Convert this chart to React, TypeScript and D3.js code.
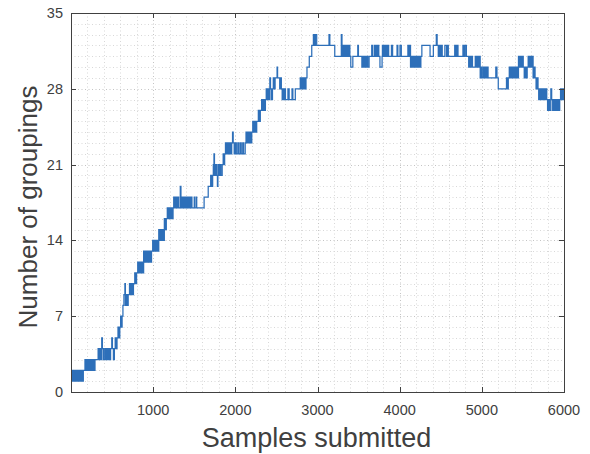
import React, { useEffect, useRef } from 'react'
import * as d3 from 'd3'

const W = 590
const H = 454
const margin = { top: 13, right: 26, bottom: 62, left: 71 }

const xTicks = [1000, 2000, 3000, 4000, 5000, 6000]
const yTicks = [0, 7, 14, 21, 28, 35]

// [sample, groupings] change points (step-after)
const risePhase: [number, number][] = [
  [0, 2], [12, 1], [25, 2], [38, 1], [50, 2], [62, 1], [75, 2], [88, 1], [100, 2], [112, 1], [125, 2], [140, 1], [150, 2],
  [170, 3], [182, 2], [195, 3], [208, 2], [220, 3], [232, 2], [245, 3], [258, 2], [270, 3], [282, 2], [292, 3],
  [330, 4], [342, 3], [352, 4], [364, 3], [374, 5], [382, 4], [394, 3], [410, 4], [422, 3], [434, 4], [446, 3], [458, 4],
  [470, 3], [482, 4], [496, 5], [504, 4], [516, 3], [528, 4], [538, 5], [550, 4], [560, 5], [572, 6], [584, 5], [594, 6],
  [604, 7], [614, 6], [622, 7], [632, 8], [644, 9], [656, 10], [662, 8], [672, 9], [684, 8], [696, 9], [712, 10], [724, 9],
  [736, 10], [748, 9], [760, 10], [776, 11], [788, 10], [798, 11], [812, 12], [824, 11], [836, 12], [848, 11], [860, 12],
  [872, 11], [884, 13], [896, 12], [908, 13], [920, 12], [932, 13], [944, 12], [956, 13], [968, 12], [980, 13], [994, 14],
  [1006, 13], [1018, 14], [1030, 13], [1042, 14], [1054, 13], [1068, 15], [1076, 14], [1090, 15], [1102, 14], [1114, 15],
  [1126, 14], [1136, 16], [1148, 15], [1160, 16], [1172, 17], [1184, 16], [1196, 17], [1208, 16], [1220, 17], [1232, 16],
  [1242, 17], [1250, 18], [1262, 17], [1274, 18], [1286, 17], [1300, 18], [1310, 17], [1330, 19], [1338, 17], [1345, 18],
  [1357, 17], [1369, 18], [1381, 17], [1393, 18], [1405, 17], [1420, 18], [1428, 17], [1440, 18], [1452, 17], [1465, 18],
  [1472, 17], [1500, 18], [1506, 17], [1525, 18], [1530, 17], [1620, 18], [1670, 19], [1700, 20], [1712, 19], [1724, 20],
  [1732, 21], [1740, 22], [1746, 20], [1758, 21], [1770, 20], [1782, 19], [1788, 21], [1800, 20], [1812, 21], [1824, 20],
  [1840, 21], [1852, 22], [1862, 21], [1870, 22], [1880, 23], [1892, 22], [1904, 23], [1916, 22], [1930, 23], [1942, 22],
  [1956, 23], [1966, 24], [1974, 23], [1986, 22], [2000, 23], [2012, 22], [2030, 23], [2042, 22], [2060, 23], [2072, 22],
  [2090, 23], [2100, 22], [2120, 23], [2130, 24], [2142, 23], [2154, 24], [2166, 23], [2178, 24], [2190, 23], [2200, 24],
  [2212, 25], [2224, 24], [2236, 25], [2248, 24], [2260, 25], [2280, 26], [2292, 25], [2304, 26], [2320, 27], [2332, 26],
  [2344, 27], [2356, 26], [2366, 27], [2376, 28], [2388, 27], [2400, 28], [2412, 27], [2420, 29], [2428, 28], [2440, 27],
  [2452, 28], [2462, 29], [2470, 28], [2484, 29], [2508, 30], [2514, 29], [2540, 28], [2550, 29], [2560, 28], [2570, 27],
  [2580, 28], [2590, 27], [2600, 28], [2610, 27], [2640, 28], [2655, 27], [2690, 28], [2700, 27], [2730, 28], [2790, 29],
  [2802, 28], [2814, 29], [2826, 28], [2838, 29], [2850, 28], [2860, 29], [2872, 30], [2900, 31], [2930, 32],
]

const plateauPhase: [number, number][] = [
  [2950, 33], [2962, 32], [2974, 33], [2990, 32], [3140, 33], [3150, 32], [3210, 31], [3290, 33], [3298, 31], [3310, 32],
  [3322, 31], [3334, 32], [3346, 31], [3358, 32], [3370, 31], [3382, 32], [3394, 31], [3405, 30], [3430, 31], [3490, 32],
  [3498, 31], [3540, 30], [3552, 31], [3564, 30], [3576, 31], [3588, 30], [3600, 31], [3612, 30], [3628, 31], [3660, 32],
  [3668, 31], [3690, 32], [3700, 31], [3712, 32], [3722, 31], [3734, 32], [3746, 31], [3760, 30], [3786, 31], [3790, 32],
  [3802, 31], [3812, 32], [3824, 31], [3836, 32], [3848, 31], [3858, 32], [3866, 31], [3900, 32], [3914, 31], [3968, 32],
  [3978, 31], [4004, 32], [4020, 31], [4100, 32], [4112, 31], [4122, 32], [4132, 30], [4144, 31], [4156, 30], [4168, 31],
  [4180, 30], [4192, 31], [4204, 30], [4214, 31], [4222, 30], [4234, 31], [4246, 30], [4258, 31], [4270, 32], [4370, 31],
  [4410, 32], [4446, 33], [4456, 32], [4470, 31], [4482, 32], [4494, 31], [4506, 32], [4518, 31], [4550, 32], [4570, 31],
  [4580, 32], [4592, 31], [4670, 32], [4684, 31], [4696, 32], [4710, 31], [4770, 32], [4784, 31], [4796, 32], [4812, 31],
]

const declinePhase: [number, number][] = [
  [4840, 30], [4852, 31], [4864, 30], [4876, 31], [4886, 30], [4920, 31], [4932, 30], [4944, 31], [4956, 30], [4968, 31],
  [4980, 29], [4992, 30], [5004, 29], [5020, 30], [5032, 29], [5044, 30], [5056, 29], [5068, 30], [5076, 29], [5170, 30],
  [5184, 29], [5200, 28], [5300, 29], [5312, 28], [5322, 29], [5334, 30], [5342, 29], [5354, 30], [5366, 29], [5376, 30],
  [5388, 29], [5400, 30], [5412, 29], [5424, 30], [5436, 29], [5446, 31], [5458, 30], [5470, 31], [5482, 30], [5494, 31],
  [5504, 30], [5516, 29], [5528, 30], [5540, 29], [5552, 30], [5564, 31], [5576, 30], [5588, 31], [5600, 30], [5612, 31],
  [5624, 29], [5636, 30], [5648, 29], [5660, 28], [5672, 29], [5684, 28], [5692, 27], [5704, 28], [5716, 27], [5728, 28],
  [5740, 27], [5752, 28], [5764, 27], [5776, 28], [5790, 27], [5800, 26], [5812, 27], [5824, 26], [5840, 28], [5850, 27],
  [5862, 26], [5874, 27], [5886, 26], [5898, 27], [5910, 26], [5922, 27], [5934, 26], [5948, 27], [5958, 28], [5970, 27],
  [5982, 28], [5994, 27], [6000, 27],
]

const font = "'Liberation Sans', Arial, Helvetica, sans-serif"

export default function App() {
  const ref = useRef<SVGSVGElement>(null)

  useEffect(() => {
    const svg = d3.select(ref.current)
    svg.selectAll('*').remove()

    const x0 = margin.left, x1 = W - margin.right
    const y0 = H - margin.bottom, y1 = margin.top

    const x = d3.scaleLinear().domain([0, 6000]).range([x0, x1])
    const y = d3.scaleLinear().domain([0, 35]).range([y0, y1])
    const px = (v: number) => Math.round(v) + 0.5

    svg.append('rect').attr('width', W).attr('height', H).attr('fill', '#fff')

    // minor + major grid, all dotted like matlab
    const grid = svg.append('g')
    grid.selectAll('line.vx')
      .data(d3.range(200, 6000, 200))
      .enter().append('line')
      .attr('x1', d => px(x(d))).attr('x2', d => px(x(d)))
      .attr('y1', y1).attr('y2', y0)
      .attr('stroke', d => d % 1000 === 0 ? '#c4c4c4' : '#d8d8d8')
      .attr('stroke-dasharray', '1,2.5')
    grid.selectAll('line.hy')
      .data(d3.range(1, 35, 1))
      .enter().append('line')
      .attr('y1', d => px(y(d))).attr('y2', d => px(y(d)))
      .attr('x1', x0).attr('x2', x1)
      .attr('stroke', d => d % 7 === 0 ? '#c4c4c4' : '#d8d8d8')
      .attr('stroke-dasharray', '1,2.5')

    svg.append('clipPath').attr('id', 'plotclip')
      .append('rect').attr('x', x0).attr('y', y1 - 1).attr('width', x1 - x0).attr('height', y0 - y1 + 2)

    const steps = [...risePhase, ...plateauPhase, ...declinePhase]
    const line = d3.line<[number, number]>()
      .x(d => x(d[0]))
      .y(d => y(d[1]))
      .curve(d3.curveStepAfter)

    svg.append('path')
      .datum(steps)
      .attr('clip-path', 'url(#plotclip)')
      .attr('fill', 'none')
      .attr('stroke', '#2d6fb9')
      .attr('stroke-width', 1.25)
      .attr('d', line)

    // box + inward ticks
    const axisColor = '#404040'
    svg.append('rect')
      .attr('x', x0 + 0.5).attr('y', y1 + 0.5)
      .attr('width', x1 - x0).attr('height', y0 - y1)
      .attr('fill', 'none').attr('stroke', axisColor).attr('stroke-width', 1)

    const ticks = svg.append('g').attr('stroke', axisColor)
    xTicks.forEach(t => {
      const xx = px(x(t))
      ticks.append('line').attr('x1', xx).attr('x2', xx).attr('y1', y0).attr('y2', y0 - 5)
      ticks.append('line').attr('x1', xx).attr('x2', xx).attr('y1', y1).attr('y2', y1 + 5)
    })
    yTicks.forEach(t => {
      const yy = px(y(t))
      ticks.append('line').attr('y1', yy).attr('y2', yy).attr('x1', x0).attr('x2', x0 + 5)
      ticks.append('line').attr('y1', yy).attr('y2', yy).attr('x1', x1).attr('x2', x1 - 5)
    })

    svg.append('g').selectAll('text')
      .data(xTicks)
      .enter().append('text')
      .attr('x', d => x(d)).attr('y', y0 + 23)
      .attr('text-anchor', 'middle')
      .attr('font-family', font).attr('font-size', 14.5).attr('fill', '#404040')
      .text(d => d)

    svg.append('g').selectAll('text')
      .data(yTicks)
      .enter().append('text')
      .attr('x', x0 - 8).attr('y', d => y(d) + 5)
      .attr('text-anchor', 'end')
      .attr('font-family', font).attr('font-size', 14.5).attr('fill', '#404040')
      .text(d => d)

    svg.append('text')
      .attr('x', (x0 + x1) / 2 - 1).attr('y', 447)
      .attr('text-anchor', 'middle')
      .attr('font-family', font).attr('font-size', 27).attr('fill', '#404040')
      .text('Samples submitted')

    svg.append('text')
      .attr('transform', `translate(37, 207) rotate(-90)`)
      .attr('text-anchor', 'middle')
      .attr('font-family', font).attr('font-size', 26).attr('fill', '#404040')
      .text('Number of groupings')
  }, [])

  return (
    <svg ref={ref} width={W} height={H} style={{ position: 'absolute', left: 0, top: 0 }} />
  )
}
